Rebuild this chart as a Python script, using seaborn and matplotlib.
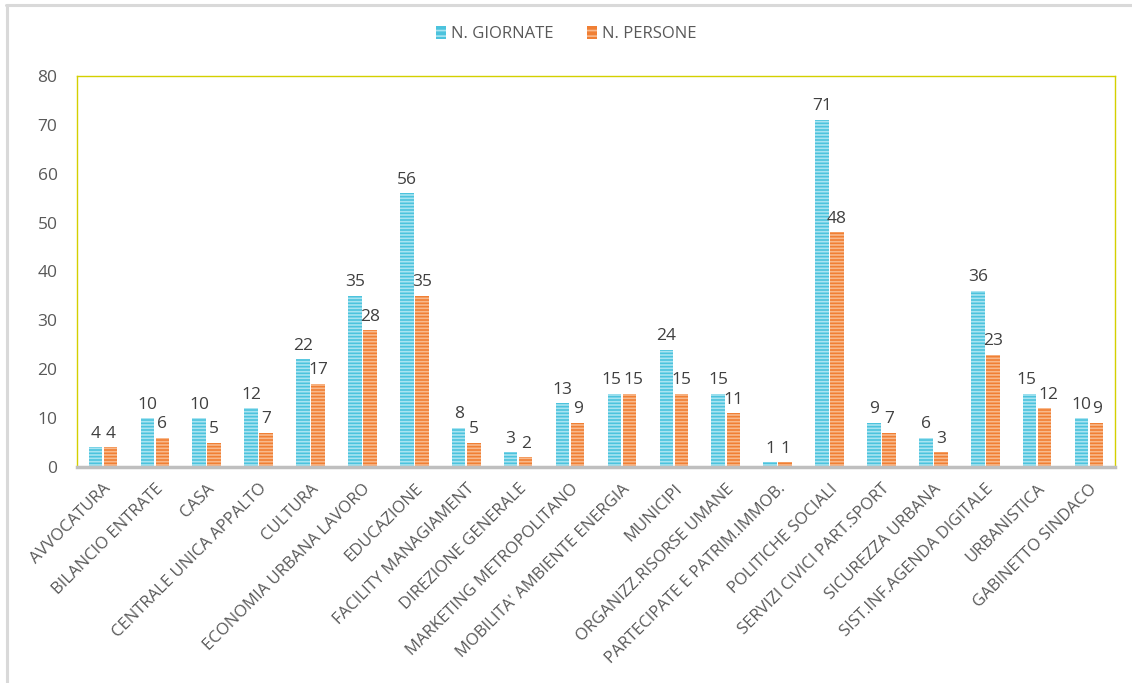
import matplotlib
matplotlib.use("Agg")
import matplotlib.pyplot as plt
from matplotlib.patches import Patch
from matplotlib.lines import Line2D
import seaborn as sns
import pandas as pd

categories = [
    "AVVOCATURA", "BILANCIO ENTRATE", "CASA", "CENTRALE UNICA APPALTO",
    "CULTURA", "ECONOMIA URBANA LAVORO", "EDUCAZIONE", "FACILITY MANAGIAMENT",
    "DIREZIONE GENERALE", "MARKETING METROPOLITANO", "MOBILITA' AMBIENTE ENERGIA",
    "MUNICIPI", "ORGANIZZ.RISORSE UMANE", "PARTECIPATE E PATRIM.IMMOB.",
    "POLITICHE SOCIALI", "SERVIZI CIVICI PART.SPORT", "SICUREZZA URBANA",
    "SIST.INF.AGENDA DIGITALE", "URBANISTICA", "GABINETTO SINDACO",
]
giornate = [4, 10, 10, 12, 22, 35, 56, 8, 3, 13, 15, 24, 15, 1, 71, 9, 6, 36, 15, 10]
persone = [4, 6, 5, 7, 17, 28, 35, 5, 2, 9, 15, 15, 11, 1, 48, 7, 3, 23, 12, 9]
series_names = ["N. GIORNATE", "N. PERSONE"]
y_ticks = [0, 10, 20, 30, 40, 50, 60, 70, 80]

fill_colors = ["#4cc3dd", "#f07f34"]
stripe_colors = ["#a9e4f1", "#f8b98c"]
text_color = "#595959"
label_color = "#404040"

df = pd.DataFrame({
    "categoria": categories * 2,
    "valore": giornate + persone,
    "serie": [series_names[0]] * len(categories) + [series_names[1]] * len(categories),
})

sns.set_theme(style="white")
plt.rcParams["font.family"] = ["Open Sans", "DejaVu Sans"]
plt.rcParams["hatch.linewidth"] = 1.2

fig = plt.figure(figsize=(11.32, 6.83), dpi=100)
ax = fig.add_axes([0.068, 0.3163, 0.917, 0.5724])

sns.barplot(
    data=df, x="categoria", y="valore", hue="serie",
    palette=fill_colors, width=0.58, gap=0.1,
    linewidth=0, legend=False, ax=ax, saturation=1,
)

n = len(categories)
for i, patch in enumerate(ax.patches[: 2 * n]):
    s = i // n
    patch.set_hatch("-----")
    patch.set_edgecolor(stripe_colors[s])
    patch.set_linewidth(0)

ax.set_ylim(0, 80)
ax.set_yticks(y_ticks)
ax.set_xlim(-0.5, n - 0.5)
ax.set_xlabel("")
ax.set_ylabel("")
ax.tick_params(axis="y", labelsize=12.5, colors=text_color, length=0, pad=14)
ax.tick_params(axis="x", labelsize=12, colors=text_color, length=0, pad=10)
ax.set_xticks(range(n))
ax.set_xticklabels(categories, rotation=45, ha="right", rotation_mode="anchor")

# value labels above each bar
label_sets = [
    ax.bar_label(container, fmt="%d", padding=4, fontsize=12.5, color=label_color)
    for container in ax.containers
]

# push apart the two labels of a group when they would collide
fig.canvas.draw()
renderer = fig.canvas.get_renderer()
px_to_pt = 72.0 / fig.dpi
for left_lab, right_lab in zip(label_sets[0], label_sets[1]):
    bl = left_lab.get_window_extent(renderer)
    br = right_lab.get_window_extent(renderer)
    if bl.overlaps(br):
        shift = (bl.x1 - br.x0) / 2 + 1.0
        dx, dy = left_lab.xyann
        left_lab.xyann = (dx - shift * px_to_pt, dy)
        dx, dy = right_lab.xyann
        right_lab.xyann = (dx + shift * px_to_pt, dy)

for side in ["top", "right", "left"]:
    ax.spines[side].set_color("#d4d000")
    ax.spines[side].set_linewidth(1.0)
ax.spines["bottom"].set_color("#bfbfbf")
ax.spines["bottom"].set_linewidth(2.5)

handles = [
    Patch(facecolor=fill_colors[k], edgecolor=stripe_colors[k], hatch="---", linewidth=0)
    for k in range(2)
]
fig.legend(
    handles, series_names, loc="center", bbox_to_anchor=(0.5, 0.950),
    ncol=2, frameon=False, fontsize=12, labelcolor=text_color,
    handlelength=0.6, handleheight=0.8, handletextpad=0.3, columnspacing=2.0,
)

# light frame around the chart area
fig.add_artist(Line2D([0.0055, 1.0], [0.9925, 0.9925], color="#d9d9d9", lw=2.2,
                      transform=fig.transFigure))
fig.add_artist(Line2D([0.0065, 0.0065], [0.0, 0.993], color="#d9d9d9", lw=2.2,
                      transform=fig.transFigure))

fig.savefig("out.png", dpi=100, facecolor="white")
